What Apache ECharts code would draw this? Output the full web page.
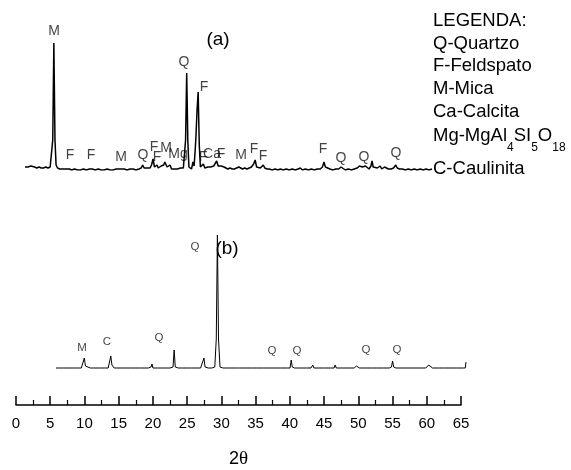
<!doctype html>
<html lang="pt">
<head>
  <meta charset="utf-8" />
  <script src="https://cdn.jsdelivr.net/npm/echarts@6/dist/echarts.min.js"></script>
</head>
<body style="margin: 0">
  <div id="main" style="width: 571px; height: 470px"></div>
  <script>
    // pattern (a): [2theta, intensity]
    var patternA = [
      [5.0,3],[5.2,4],[5.4,3],[5.6,3],[5.8,4],[6.0,3],[6.3,3],[6.6,2],[6.9,3],[7.2,2],[7.5,2],[7.8,3],
      [8.1,2],[8.4,3],[8.6,5],[8.75,30],[8.9,127],[9.05,30],[9.2,5],[9.4,2],[9.7,1],[10.0,1],[10.3,1],
      [10.6,1],[10.8,3],[11.0,1],[11.3,0],[11.7,1],[12.1,0],[12.5,0],[12.9,1],[13.3,0],[13.7,1],[13.9,3],
      [14.1,1],[14.5,0],[14.9,1],[15.3,0],[15.7,0],[16.1,1],[16.5,0],[16.9,0],[17.3,1],[17.6,1],[17.8,3],
      [18.0,1],[18.4,1],[18.8,0],[19.2,1],[19.6,1],[20.0,0],[20.4,1],[20.7,2],[20.9,5],[21.1,2],[21.3,1],
      [21.6,2],[21.9,2],[22.1,5],[22.3,11],[22.5,3],[22.7,2],[22.85,5],[23.0,2],[23.2,1],[23.4,4],[23.6,2],
      [23.75,5],[23.9,8],[24.05,6],[24.2,3],[24.4,2],[24.6,5],[24.8,1],[25.0,2],[25.2,1],[25.4,3],[25.6,1],
      [25.8,1],[26.0,2],[26.2,4],[26.4,2],[26.55,3],[26.7,30],[26.85,97],[27.0,30],[27.15,3],[27.3,2],
      [27.5,1],[27.7,8],[27.85,4],[28.0,20],[28.1,33],[28.25,60],[28.4,78],[28.55,25],[28.7,3],[28.9,2],
      [29.1,6],[29.3,2],[29.5,1],[29.7,3],[29.9,2],[30.1,3],[30.3,5],[30.5,4],[30.7,6],[30.9,9],[31.1,4],
      [31.3,3],[31.5,4],[31.7,2],[31.9,3],[32.1,2],[32.4,1],[32.7,2],[33.0,1],[33.3,1],[33.6,2],[33.9,3],
      [34.1,1],[34.4,1],[34.7,2],[35.0,1],[35.3,2],[35.6,3],[35.9,6],[36.1,10],[36.3,3],[36.5,2],[36.8,2],
      [37.0,3],[37.2,5],[37.4,2],[37.7,1],[38.0,1],[38.4,0],[38.8,1],[39.2,0],[39.5,1],[39.9,0],[40.3,1],
      [40.7,0],[41.1,1],[41.5,0],[41.9,1],[42.2,2],[42.5,0],[42.9,1],[43.3,0],[43.7,1],[44.1,0],[44.5,1],
      [44.9,1],[45.2,3],[45.4,8],[45.6,3],[45.8,1],[46.2,1],[46.6,0],[47.0,1],[47.4,1],[47.7,3],[47.9,1],
      [48.3,0],[48.7,1],[49.1,0],[49.5,1],[49.9,2],[50.2,4],[50.4,6],[50.6,3],[50.8,4],[51.0,4],[51.2,2],
      [51.5,1],[51.75,4],[51.9,9],[52.05,3],[52.3,1],[52.6,2],[52.8,2],[53.0,4],[53.2,1],[53.4,2],[53.6,3],
      [53.8,1],[54.1,1],[54.5,1],[54.8,2],[55.1,5],[55.3,2],[55.6,1],[56.0,1],[56.4,0],[56.8,1],[57.2,0],
      [57.6,1],[58.0,0],[58.4,1],[58.8,0],[59.2,1],[59.6,0],[60.0,1]
    ];

    // pattern (b)
    var patternB = [
      [5.0,1],[5.5,1],[6.0,1],[6.5,1],[7.0,1],[7.5,1],[8.0,1],[8.4,1],[8.65,2],[8.8,11],[8.95,3],[9.2,1],
      [9.6,1],[10.0,1],[10.5,1],[11.0,1],[11.5,1],[12.0,1],[12.2,3],[12.35,13],[12.5,4],[12.8,1],[13.2,1],
      [13.8,1],[14.4,1],[15.0,1],[15.6,1],[16.2,1],[16.8,1],[17.4,1],[17.75,2],[17.88,5],[18.0,1],[18.6,1],
      [19.2,1],[19.8,1],[20.3,1],[20.7,2],[20.85,19],[21.0,2],[21.4,1],[22.0,1],[22.6,1],[23.2,1],[23.8,1],
      [24.4,1],[24.65,3],[24.85,11],[25.0,2],[25.4,1],[25.9,1],[26.3,2],[26.5,30],[26.65,134],[26.8,30],
      [27.0,2],[27.4,1],[28.0,1],[28.6,1],[29.2,1],[29.5,1],[29.68,3],[29.8,1],[30.5,1],[31.2,1],[32.0,1],
      [32.8,1],[33.6,1],[34.4,1],[35.1,1],[35.3,3],[35.45,1],[36.0,1],[36.4,1],[36.55,9],[36.7,2],[37.0,1],
      [37.5,1],[37.75,3],[37.9,1],[38.6,1],[39.2,1],[39.45,4],[39.6,1],[40.0,1],[40.15,3],[40.3,1],[41.0,1],
      [41.8,1],[42.3,1],[42.45,4],[42.6,1],[43.4,1],[44.2,1],[45.0,1],[45.3,3],[45.5,2],[45.7,1],[46.5,1],
      [47.3,1],[48.1,1],[48.9,1],[49.7,1],[50.0,2],[50.15,8],[50.3,2],[50.6,1],[51.4,1],[52.2,1],[53.0,1],
      [53.8,1],[54.6,1],[54.85,3],[55.0,4],[55.2,2],[55.5,1],[56.3,1],[57.1,1],[57.9,1],[58.7,1],[59.5,1],
      [59.9,1],[60.0,7]
    ];

    // phase labels: [2theta, height, text]
    var peaksA = [
      [8.92,139,'M'],[11.08,15,'F'],[13.92,15,'F'],[17.97,13,'M'],[20.95,15,'Q'],[22.43,23,'F'],
      [22.84,13,'F'],[24.05,22,'M'],[25.68,16,'Mg'],[26.49,108,'Q'],[29.19,83,'F'],[29.05,13,'F'],
      [30.27,16,'Ca'],[31.49,16,'F'],[34.19,15,'M'],[35.95,21,'F'],[37.16,14,'F'],[45.27,21,'F'],
      [47.70,12,'Q'],[50.81,13,'Q'],[55.14,17,'Q']
    ];
    var peaksB = [
      [8.49,21,'M'],[11.84,27,'C'],[18.82,31,'Q'],[23.65,122,'Q'],[33.97,18,'Q'],[37.33,18,'Q'],
      [46.58,19,'Q'],[50.74,19,'Q']
    ];

    var legendLines = ['LEGENDA:', 'Q-Quartzo', 'F-Feldspato', 'M-Mica', 'Ca-Calcita',
      '{m|Mg-MgAl}{s|4}{m|SI}{s|5}{m|O}{s|18}', 'C-Caulinita'];
    var legendY = [21, 44, 66, 89, 112, 136, 169];

    var sans = 'Liberation Sans, Arial, sans-serif';
    var myChart = echarts.init(document.getElementById('main'));

    function hiddenAxis(i, min, max) {
      return {gridIndex: i, type: 'value', min: min, max: max, show: false};
    }

    function labelSeries(data, xi, size) {
      return {
        type: 'scatter', xAxisIndex: xi, yAxisIndex: xi, symbolSize: 1, clip: false,
        itemStyle: {color: 'rgba(0,0,0,0)'},
        label: {show: true, position: 'inside', formatter: '{b}', color: '#111',
          fontFamily: sans, fontSize: size},
        data: data.map(function (p) { return {name: p[2], value: [p[0], p[1]]}; })
      };
    }

    var option = {
      animation: false,
      backgroundColor: '#fff',
      grid: [
        {left: 25, right: 139, top: 30, bottom: 300, outerBoundsMode: 'none'},
        {left: 56, right: 105, top: 229, bottom: 101, outerBoundsMode: 'none'},
        {left: 16, right: 110, top: 380, bottom: 65, outerBoundsMode: 'none'}
      ],
      xAxis: [
        hiddenAxis(0, 5, 60),
        hiddenAxis(1, 5, 60),
        {
          gridIndex: 2, type: 'value', min: 0, max: 65, interval: 5,
          axisLine: {show: true, onZero: false, lineStyle: {color: '#000', width: 1.5}},
          axisTick: {show: true, inside: true, length: 9, lineStyle: {color: '#000', width: 1.5}},
          minorTick: {show: true, splitNumber: 2, length: 5, lineStyle: {color: '#000', width: 1.2}},
          splitLine: {show: false},
          axisLabel: {color: '#000', fontSize: 15, margin: 11, fontFamily: sans,
            showMinLabel: true, showMaxLabel: true},
          name: '{a|2}{b|θ}', nameLocation: 'middle', nameGap: 45,
          nameTextStyle: {rich: {
            a: {fontFamily: sans, fontSize: 18, color: '#000'},
            b: {fontFamily: 'Liberation Serif, serif', fontSize: 19, color: '#000'}
          }}
        }
      ],
      yAxis: [
        hiddenAxis(0, 0, 140),
        hiddenAxis(1, 0, 140),
        hiddenAxis(2, 0, 1)
      ],
      graphic: legendLines.map(function (t, i) {
        return {
          type: 'text', x: 433, y: legendY[i],
          style: {text: t, fill: '#000', font: '18.5px ' + sans, verticalAlign: 'middle',
            rich: {
              m: {fontSize: 18.5, fontFamily: sans, lineHeight: 35},
              s: {fontSize: 12, fontFamily: sans, lineHeight: 12, verticalAlign: 'bottom'}
            }}
        };
      }).concat([
        {type: 'text', x: 218, y: 40, style: {text: '(a)', fill: '#000', font: '19px ' + sans,
          align: 'center', verticalAlign: 'middle'}},
        {type: 'text', x: 227, y: 249, style: {text: '(b)', fill: '#000', font: '19px ' + sans,
          align: 'center', verticalAlign: 'middle'}}
      ]),
      series: [
        {type: 'line', xAxisIndex: 0, yAxisIndex: 0, data: patternA, showSymbol: false,
          lineStyle: {color: '#000', width: 1.5}},
        labelSeries(peaksA, 0, 14),
        {type: 'line', xAxisIndex: 1, yAxisIndex: 1, data: patternB, showSymbol: false,
          lineStyle: {color: '#000', width: 1}},
        labelSeries(peaksB, 1, 11.5)
      ]
    };
    myChart.setOption(option);
  </script>
</body>
</html>
